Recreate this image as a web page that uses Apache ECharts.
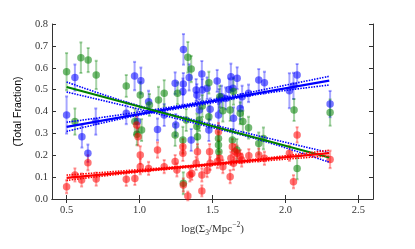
<!DOCTYPE html>
<html><head><meta charset="utf-8">
<script src="https://cdn.jsdelivr.net/npm/echarts@6/dist/echarts.min.js"></script>
<style>html,body{margin:0;padding:0;background:#fff}#c{width:415px;height:249px}</style>
</head><body><div id="c"></div>
<script>
// [x, y, err]
const bluePts = [
 [0.50,0.384,0.085],[0.557,0.555,0.06],[0.605,0.285,0.05],[0.646,0.209,0.04],[0.70,0.354,0.06],
 [0.909,0.392,0.05],[0.966,0.562,0.065],[1.009,0.541,0.06],[0.986,0.354,0.05],[1.062,0.445,0.05],
 [1.123,0.318,0.05],[1.169,0.384,0.05],[1.244,0.529,0.05],[1.248,0.338,0.05],[1.301,0.684,0.07],
 [1.297,0.491,0.06],[1.30,0.526,0.05],[1.34,0.556,0.06],[1.354,0.27,0.05],[1.388,0.498,0.05],
 [1.393,0.475,0.05],[1.41,0.407,0.05],[1.427,0.571,0.06],[1.43,0.498,0.05],[1.463,0.506,0.05],
 [1.475,0.315,0.05],[1.484,0.41,0.05],[1.532,0.54,0.05],[1.541,0.384,0.05],[1.545,0.453,0.05],
 [1.562,0.468,0.05],[1.59,0.46,0.05],[1.614,0.501,0.05],[1.626,0.559,0.06],[1.64,0.506,0.05],
 [1.644,0.369,0.05],[1.669,0.552,0.05],[1.69,0.414,0.05],[1.703,0.468,0.05],[1.747,0.483,0.04],
 [1.817,0.544,0.05],[1.856,0.532,0.05],[2.027,0.495,0.08],[2.055,0.517,0.06],[2.08,0.567,0.05],
 [2.306,0.434,0.06]
];
const greenPts = [
 [0.50,0.582,0.085],[0.557,0.354,0.06],[0.598,0.646,0.07],[0.648,0.635,0.055],[0.703,0.567,0.065],
 [0.909,0.517,0.05],[0.968,0.354,0.06],[0.982,0.296,0.05],[1.005,0.475,0.06],[1.014,0.315,0.05],
 [1.068,0.43,0.05],[1.13,0.453,0.06],[1.169,0.483,0.06],[1.244,0.293,0.05],[1.26,0.483,0.05],
 [1.30,0.072,0.05],[1.297,0.27,0.06],[1.331,0.648,0.07],[1.354,0.594,0.06],[1.32,0.361,0.05],
 [1.393,0.331,0.06],[1.397,0.285,0.05],[1.41,0.361,0.05],[1.43,0.425,0.05],[1.475,0.532,0.05],
 [1.475,0.376,0.05],[1.541,0.277,0.06],[1.541,0.247,0.06],[1.544,0.216,0.05],[1.55,0.468,0.05],
 [1.571,0.404,0.05],[1.621,0.407,0.05],[1.644,0.491,0.06],[1.636,0.27,0.05],[1.667,0.224,0.05],
 [1.69,0.392,0.05],[1.708,0.354,0.05],[1.747,0.326,0.05],[1.817,0.254,0.05],[1.849,0.277,0.05],
 [2.059,0.407,0.05],[2.08,0.14,0.05],[2.306,0.395,0.06]
];
const redPts = [
 [0.50,0.056,0.03],[0.557,0.11,0.03],[0.603,0.087,0.03],[0.646,0.166,0.035],[0.703,0.091,0.03],
 [0.909,0.09,0.03],[0.968,0.094,0.03],[1.005,0.201,0.04],[1.005,0.148,0.035],[0.99,0.285,0.04],
 [0.98,0.338,0.04],[1.062,0.14,0.03],[1.123,0.224,0.035],[1.169,0.148,0.03],[1.244,0.171,0.03],
 [1.256,0.133,0.03],[1.297,0.239,0.035],[1.297,0.209,0.035],[1.30,0.064,0.03],[1.331,0.014,0.02],
 [1.345,0.11,0.03],[1.358,0.117,0.03],[1.388,0.163,0.03],[1.397,0.216,0.035],[1.427,0.11,0.03],
 [1.427,0.037,0.025],[1.463,0.13,0.03],[1.48,0.216,0.035],[1.484,0.163,0.03],[1.534,0.171,0.03],
 [1.541,0.308,0.04],[1.55,0.186,0.03],[1.571,0.148,0.03],[1.621,0.102,0.03],[1.626,0.186,0.03],
 [1.636,0.239,0.035],[1.644,0.163,0.03],[1.655,0.216,0.035],[1.669,0.209,0.035],[1.69,0.194,0.03],
 [1.70,0.178,0.03],[1.749,0.198,0.03],[1.817,0.201,0.03],[1.856,0.186,0.03],[2.027,0.209,0.035],
 [2.055,0.079,0.03],[2.08,0.293,0.035],[2.306,0.181,0.04]
];
const fitX = [0.5, 2.3];
const blueFit = [0.330, 0.541];
const greenFit = [0.512, 0.190];
const redFit = [0.097, 0.210];
const bandX = [0.5, 0.95, 1.4, 1.85, 2.3];
const blueLo = [0.309, 0.377, 0.428, 0.482, 0.521];
const blueHi = [0.351, 0.393, 0.442, 0.500, 0.561];
const greenLo = [0.489, 0.418, 0.343, 0.265, 0.168];
const greenHi = [0.535, 0.435, 0.357, 0.283, 0.212];
const redLo = [0.085, 0.120, 0.148, 0.174, 0.197];
const redHi = [0.109, 0.132, 0.156, 0.186, 0.223];
const xTicks = [0.5, 1.0, 1.5, 2.0, 2.5];
const yTicks = [0.0, 0.1, 0.2, 0.3, 0.4, 0.5, 0.6, 0.7, 0.8];

const chart = echarts.init(document.getElementById('c'), null, {renderer:'canvas'});
const BLUE='#0000ff', GREEN='#008000', RED='#ff0000';
const serif = 'Liberation Serif';
function errSeries(pts, color){
  return {type:'custom', xAxisIndex:0, yAxisIndex:0, data:pts, silent:true, z:2,
    renderItem:function(params, api){
      const x=api.value(0), y=api.value(1), e=api.value(2);
      const p1=api.coord([x,y-e]), p2=api.coord([x,y+e]);
      const st={stroke:color, lineWidth:2, opacity:0.35};
      return {type:'group', children:[
        {type:'line', shape:{x1:p1[0],y1:p1[1],x2:p2[0],y2:p2[1]}, style:st},
        {type:'line', shape:{x1:p1[0]-1.5,y1:p1[1],x2:p1[0]+1.5,y2:p1[1]}, style:st},
        {type:'line', shape:{x1:p2[0]-1.5,y1:p2[1],x2:p2[0]+1.5,y2:p2[1]}, style:st}
      ]};
    }};
}
function ptSeries(pts, color){
  return {type:'scatter', data:pts.map(p=>[p[0],p[1]]), symbolSize:7.5, z:3, silent:true,
    itemStyle:{color:color, opacity:0.55, borderWidth:0}};
}
function lineSeries(xs, ys, color, dotted, z){
  return {type:'line', data:xs.map((x,i)=>[x,ys[i]]), showSymbol:false, symbol:'none', smooth:dotted?0.4:false,
    silent:true, z:z, lineStyle:{color:color, width:dotted?1.6:2.2, type:dotted?[1.5,1.2]:'solid'}};
}
const axisLabel = {fontFamily:serif, fontSize:10.5, color:'#333'};
const axisLineStyle = {lineStyle:{color:'#333', width:1}};
chart.setOption({
  animation:false,
  grid:{left:52, right:42, top:24, bottom:50},
  xAxis:[
    {type:'value', min:0.4, max:2.6, position:'bottom', splitLine:{show:false},
     axisLine:axisLineStyle, axisTick:{inside:true, length:4, lineStyle:{color:'#333'},
       customValues:xTicks},
     axisLabel:Object.assign({customValues:xTicks, margin:6, formatter:v=>v.toFixed(1)}, axisLabel),
     name:'{n|log(Σ}{s|3}{n|/Mpc}{p|−2}{n|)}', nameLocation:'middle', nameGap:22,
     nameTextStyle:{rich:{
       n:{fontFamily:serif, fontSize:11, color:'#333', lineHeight:16, verticalAlign:'middle'},
       s:{fontFamily:serif, fontSize:7.5, color:'#333', lineHeight:16, verticalAlign:'bottom'},
       p:{fontFamily:serif, fontSize:7.5, color:'#333', lineHeight:16, verticalAlign:'top'}
     }}},
    {type:'value', min:0.4, max:2.6, position:'top', splitLine:{show:false},
     axisLine:axisLineStyle, axisTick:{inside:true, length:4, lineStyle:{color:'#333'}, customValues:xTicks},
     axisLabel:{show:false}}
  ],
  yAxis:[
    {type:'value', min:0, max:0.8, interval:0.1, position:'left', splitLine:{show:false},
     axisLine:Object.assign({show:true}, axisLineStyle), axisTick:{inside:true, length:4, lineStyle:{color:'#333'}},
     axisLabel:Object.assign({margin:4, formatter:v=>v.toFixed(1)}, axisLabel),
     name:'(Total Fraction)', nameLocation:'middle', nameGap:25, nameRotate:90,
     nameTextStyle:{fontFamily:'Liberation Sans', fontSize:10.5, color:'#000'}},
    {type:'value', min:0, max:0.8, interval:0.1, position:'right', splitLine:{show:false},
     axisLine:Object.assign({show:true}, axisLineStyle), axisTick:{inside:true, length:4, lineStyle:{color:'#333'}},
     axisLabel:{show:false}}
  ],
  series:[
    errSeries(bluePts, BLUE), errSeries(greenPts, GREEN), errSeries(redPts, RED),
    ptSeries(bluePts, BLUE), ptSeries(greenPts, GREEN), ptSeries(redPts, RED),
    lineSeries(fitX, blueFit, BLUE, false, 5),
    lineSeries(bandX, blueLo, BLUE, true, 5), lineSeries(bandX, blueHi, BLUE, true, 5),
    lineSeries(bandX, greenLo, BLUE, true, 5), lineSeries(bandX, greenHi, BLUE, true, 5),
    lineSeries(fitX, greenFit, GREEN, false, 6),
    lineSeries(bandX, redLo, RED, true, 6), lineSeries(bandX, redHi, RED, true, 6),
    lineSeries(fitX, redFit, RED, false, 6)
  ]
});
</script></body></html>
